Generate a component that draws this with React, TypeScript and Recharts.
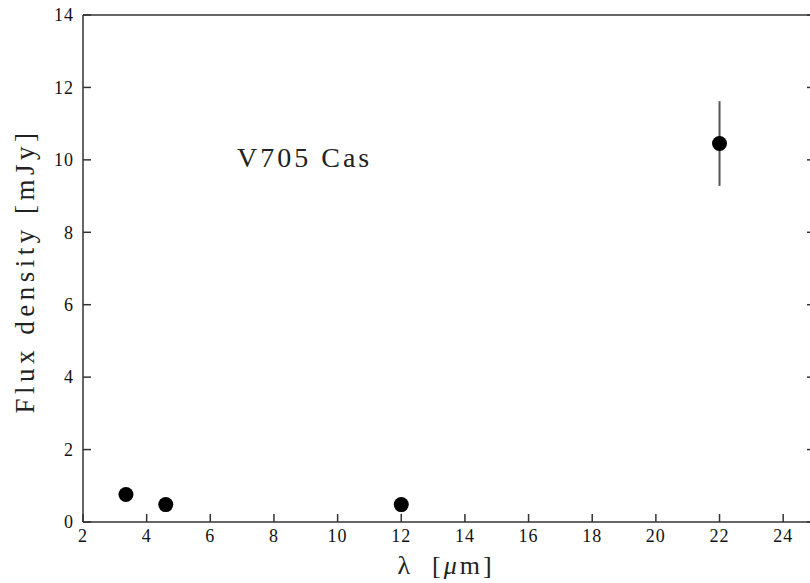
import { ErrorBar, Scatter, ScatterChart, XAxis, YAxis } from "recharts";

// WISE photometry of V705 Cas
const wavelengths = [3.35, 4.6, 12, 22];
const fluxes = [0.76, 0.48, 0.48, 10.45];
const fluxErrors = [0, 0, 0, 1.17];

const xTicks = [2, 4, 6, 8, 10, 12, 14, 16, 18, 20, 22, 24];
const yTicks = [0, 2, 4, 6, 8, 10, 12, 14];

const data = wavelengths.map((w, i) => ({
  lambda: w,
  flux: fluxes[i],
  err: fluxErrors[i],
}));

const axisStroke = { stroke: "#333", strokeWidth: 1.5 };
const noLabel = () => "";

function TickText(props: any) {
  const { x, y, payload, anchor, dy } = props;
  return (
    <text
      x={x}
      y={y}
      dy={dy}
      textAnchor={anchor}
      fontFamily="Liberation Serif"
      fontSize={18}
      letterSpacing={1}
      fill="#111"
    >
      {payload.value}
    </text>
  );
}

function Dot(props: any) {
  const { cx, cy } = props;
  return <circle cx={cx} cy={cy} r={7.5} fill="#000" />;
}

export default function App() {
  return (
    <div
      style={{
        position: "absolute",
        left: 0,
        top: 0,
        width: 810,
        height: 583,
        overflow: "hidden",
        background: "#fff",
      }}
    >
      <ScatterChart
        width={830}
        height={583}
        margin={{ top: 0, right: 0, bottom: 0, left: 0 }}
      >
        <XAxis
          xAxisId="bottom"
          type="number"
          dataKey="lambda"
          domain={[2, 25]}
          ticks={xTicks}
          allowDataOverflow
          height={61}
          tickSize={-8}
          tickMargin={15}
          axisLine={axisStroke}
          tickLine={axisStroke}
          tick={(p: any) => <TickText {...p} anchor="middle" dy="0.71em" />}
        />
        <XAxis
          xAxisId="top"
          orientation="top"
          type="number"
          domain={[2, 25]}
          ticks={xTicks}
          allowDataOverflow
          height={15}
          tickSize={-8}
          tickFormatter={noLabel}
          axisLine={axisStroke}
          tickLine={axisStroke}
        />
        <YAxis
          yAxisId="left"
          type="number"
          dataKey="flux"
          domain={[0, 14]}
          ticks={yTicks}
          allowDataOverflow
          width={83}
          tickSize={-8}
          tickMargin={17}
          axisLine={axisStroke}
          tickLine={axisStroke}
          tick={(p: any) => <TickText {...p} anchor="end" dy="0.35em" />}
        />
        <YAxis
          yAxisId="right"
          orientation="right"
          type="number"
          domain={[0, 14]}
          ticks={yTicks}
          allowDataOverflow
          width={15}
          tickSize={-8}
          tickFormatter={noLabel}
          axisLine={axisStroke}
          tickLine={axisStroke}
        />
        <Scatter
          data={data}
          xAxisId="bottom"
          yAxisId="left"
          fill="#000"
          shape={Dot}
          isAnimationActive={false}
        >
          <ErrorBar
            dataKey="err"
            direction="y"
            width={0}
            stroke="#555"
            strokeWidth={2}
            isAnimationActive={false}
          />
        </Scatter>
      </ScatterChart>

      <div
        style={{
          position: "absolute",
          left: 237,
          top: 158,
          transform: "translateY(-50%)",
          fontFamily: "Liberation Serif",
          fontSize: 28,
          letterSpacing: 3,
          lineHeight: 1,
          color: "#222",
          whiteSpace: "pre",
        }}
      >
        V705 Cas
      </div>

      <div
        style={{
          position: "absolute",
          left: 25,
          top: 271,
          transform: "translate(-50%, -50%) rotate(-90deg)",
          fontFamily: "Liberation Serif",
          fontSize: 27,
          letterSpacing: 4.5,
          lineHeight: 1,
          color: "#222",
          whiteSpace: "pre",
        }}
      >
        Flux density [mJy]
      </div>

      <div
        style={{
          position: "absolute",
          left: 446,
          top: 566,
          transform: "translate(-50%, -50%)",
          fontFamily: "Liberation Serif",
          fontSize: 26,
          letterSpacing: 3,
          lineHeight: 1,
          color: "#222",
          whiteSpace: "pre",
        }}
      >
        λ  [<i>μ</i>m]
      </div>
    </div>
  );
}
